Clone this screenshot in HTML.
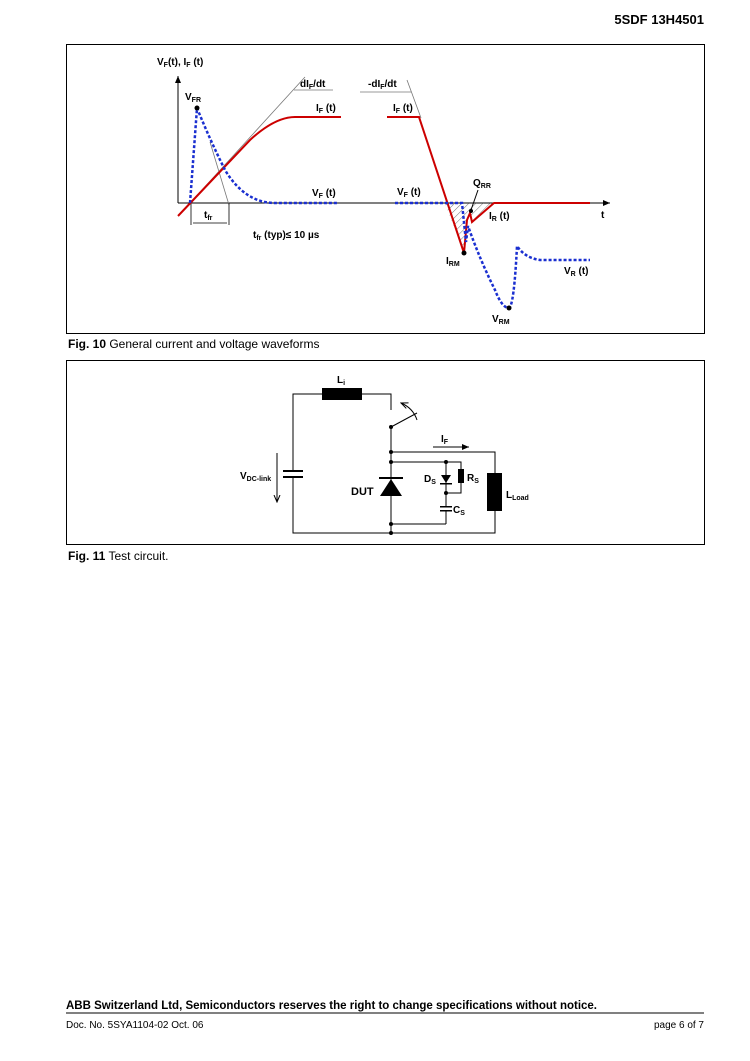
<!DOCTYPE html>
<html><head><meta charset="utf-8"><style>
html,body{margin:0;padding:0;background:#fff}
svg{display:block}
text{font-family:"Liberation Sans",Arial,sans-serif}
</style></head><body>
<svg width="750" height="1061" viewBox="0 0 750 1061" xmlns="http://www.w3.org/2000/svg">
<defs>
<pattern id="h" width="5" height="5" patternUnits="userSpaceOnUse" patternTransform="rotate(45)">
<line x1="0" y1="0" x2="0" y2="5" stroke="#555" stroke-width="0.8"/></pattern>
<marker id="ar" markerWidth="8" markerHeight="8" refX="7" refY="4" orient="auto"><path d="M0,1 L7,4 L0,7 z" fill="#000"/></marker>
<marker id="ao" markerWidth="8" markerHeight="8" refX="7" refY="4" orient="auto"><path d="M0,1 L7,4 L0,7" fill="none" stroke="#000" stroke-width="1"/></marker>
</defs>
<text x="704" y="24" font-size="13" font-weight="bold" text-anchor="end">5SDF 13H4501</text>

<!-- Fig 10 box -->
<rect x="66.5" y="44.5" width="638" height="289" fill="none" stroke="#000" stroke-width="1"/>
<text x="157" y="65" font-size="10" font-weight="bold">V<tspan font-size="7" dy="2">F</tspan><tspan dy="-2">(t), I</tspan><tspan font-size="7" dy="2">F</tspan><tspan dy="-2"> (t)</tspan></text>
<line x1="178" y1="203" x2="178" y2="76" stroke="#000" stroke-width="1" marker-end="url(#ar)"/>
<line x1="178" y1="203" x2="610" y2="203" stroke="#000" stroke-width="1" marker-end="url(#ar)"/>
<text x="601" y="218" font-size="10" font-weight="bold">t</text>
<!-- tangents -->
<line x1="190" y1="203" x2="305" y2="77" stroke="#777" stroke-width="0.8"/>
<line x1="294" y1="90" x2="333" y2="90" stroke="#777" stroke-width="0.8"/>
<text x="300" y="87" font-size="10" font-weight="bold">dI<tspan font-size="7" dy="2">F</tspan><tspan dy="-2">/dt</tspan></text>
<line x1="210" y1="142" x2="229" y2="205" stroke="#777" stroke-width="0.8"/>
<line x1="191" y1="203" x2="191" y2="225" stroke="#000" stroke-width="0.8"/>
<line x1="229" y1="203" x2="229" y2="225" stroke="#000" stroke-width="0.8"/>
<line x1="193" y1="223" x2="227" y2="223" stroke="#000" stroke-width="0.8"/>
<text x="204" y="218" font-size="10" font-weight="bold">t<tspan font-size="7" dy="2">fr</tspan></text>
<text x="253" y="238" font-size="10" font-weight="bold">t<tspan font-size="7" dy="2">fr</tspan><tspan dy="-2"> (typ)≤  10 µs</tspan></text>
<!-- IF rise -->
<path d="M178,216 L250,140 Q275,117 295,117 L341,117" fill="none" stroke="#c00" stroke-width="2"/>
<path d="M190,203 L197,108 Q210,140 225,170 Q245,203 275,203 L338,203" fill="none" stroke="#1a2fd0" stroke-width="2.5" stroke-dasharray="3,2"/>
<circle cx="197" cy="108" r="2.5" fill="#000"/>
<text x="185" y="100" font-size="10" font-weight="bold">V<tspan font-size="7" dy="2">FR</tspan></text>
<text x="316" y="111" font-size="10" font-weight="bold">I<tspan font-size="7" dy="2">F</tspan><tspan dy="-2"> (t)</tspan></text>
<text x="312" y="196" font-size="10" font-weight="bold">V<tspan font-size="7" dy="2">F</tspan><tspan dy="-2"> (t)</tspan></text>
<!-- turn off -->
<line x1="360" y1="92" x2="411" y2="92" stroke="#777" stroke-width="0.8"/>
<line x1="407" y1="80" x2="421" y2="118" stroke="#777" stroke-width="0.8"/>
<text x="368" y="87" font-size="10" font-weight="bold">-dI<tspan font-size="7" dy="2">F</tspan><tspan dy="-2">/dt</tspan></text>
<text x="393" y="111" font-size="10" font-weight="bold">I<tspan font-size="7" dy="2">F</tspan><tspan dy="-2"> (t)</tspan></text>
<path d="M445,203 L464,253 L467,220 L470,213 L472,222 L494,203 Z" fill="url(#h)"/>
<polyline points="387,117 419,117 464,253 467,220 470,213 472,222 494,203 590,203" fill="none" stroke="#c00" stroke-width="2"/>
<path d="M395,203 L462,203 L466,242 L468,226 Q480,260 495,290 Q502,308 509,308 Q514,306 517,246 Q525,258 540,260 L590,260" fill="none" stroke="#1a2fd0" stroke-width="2.5" stroke-dasharray="3,2"/>
<circle cx="464" cy="253" r="2.5" fill="#000"/>
<circle cx="509" cy="308" r="2.5" fill="#000"/>
<circle cx="471" cy="211" r="2" fill="#000"/>
<line x1="478" y1="190" x2="471" y2="210" stroke="#000" stroke-width="1"/>
<text x="397" y="195" font-size="10" font-weight="bold">V<tspan font-size="7" dy="2">F</tspan><tspan dy="-2"> (t)</tspan></text>
<text x="473" y="186" font-size="10" font-weight="bold">Q<tspan font-size="7" dy="2">RR</tspan></text>
<text x="489" y="219" font-size="10" font-weight="bold">I<tspan font-size="7" dy="2">R</tspan><tspan dy="-2"> (t)</tspan></text>
<text x="446" y="264" font-size="10" font-weight="bold">I<tspan font-size="7" dy="2">RM</tspan></text>
<text x="564" y="274" font-size="10" font-weight="bold">V<tspan font-size="7" dy="2">R</tspan><tspan dy="-2"> (t)</tspan></text>
<text x="492" y="322" font-size="10" font-weight="bold">V<tspan font-size="7" dy="2">RM</tspan></text>
<text x="68" y="348" font-size="12"><tspan font-weight="bold">Fig. 10</tspan> General current and voltage waveforms</text>

<!-- Fig 11 -->
<rect x="66.5" y="360.5" width="638" height="184" fill="none" stroke="#000" stroke-width="1"/>
<g stroke="#000" stroke-width="1" fill="none">
<polyline points="391,410 391,394 293,394 293,471"/>
<polyline points="293,478 293,533 495,533 495,511"/>
<line x1="391" y1="427" x2="391" y2="533"/>
<line x1="391" y1="427" x2="417" y2="413"/>
<path d="M417,420 Q413,408 401,403" marker-end="url(#ao)"/>
<polyline points="391,452 495,452 495,473"/>
<polyline points="391,462 461,462 461,469"/>
<polyline points="461,483 461,493 446,493"/>
<line x1="446" y1="462" x2="446" y2="507"/>
<line x1="446" y1="510" x2="446" y2="524"/>
<line x1="391" y1="524" x2="446" y2="524"/>
<line x1="277" y1="453" x2="277" y2="502" marker-end="url(#ao)"/>
<line x1="433" y1="447" x2="469" y2="447" marker-end="url(#ar)"/>
</g>
<rect x="322" y="388" width="40" height="12" fill="#000"/>
<rect x="487" y="473" width="15" height="38" fill="#000"/>
<rect x="458" y="469" width="6" height="14" fill="#000"/>
<rect x="283" y="470" width="20" height="2" fill="#000"/>
<rect x="283" y="476" width="20" height="2" fill="#000"/>
<rect x="440" y="506" width="12" height="1.5" fill="#000"/>
<rect x="440" y="510" width="12" height="1.5" fill="#000"/>
<path d="M380,496 L402,496 L391,479 Z" fill="#000"/>
<rect x="379" y="477" width="24" height="2" fill="#000"/>
<path d="M441,475 L451,475 L446,483 Z" fill="#000"/>
<rect x="440" y="483" width="12" height="1.5" fill="#000"/>
<g fill="#000">
<circle cx="391" cy="427" r="2"/><circle cx="391" cy="452" r="2"/><circle cx="391" cy="462" r="2"/>
<circle cx="391" cy="524" r="2"/><circle cx="391" cy="533" r="2"/><circle cx="446" cy="462" r="2"/><circle cx="446" cy="493" r="2"/>
</g>
<text x="337" y="383" font-size="10" font-weight="bold">L<tspan font-size="7" dy="2">i</tspan></text>
<text x="441" y="442" font-size="10" font-weight="bold">I<tspan font-size="7" dy="2">F</tspan></text>
<text x="240" y="479" font-size="10" font-weight="bold">V<tspan font-size="7" dy="2">DC-link</tspan></text>
<text x="351" y="495" font-size="11" font-weight="bold">DUT</text>
<text x="424" y="482" font-size="10" font-weight="bold">D<tspan font-size="7" dy="2">S</tspan></text>
<text x="467" y="481" font-size="10" font-weight="bold">R<tspan font-size="7" dy="2">S</tspan></text>
<text x="453" y="513" font-size="10" font-weight="bold">C<tspan font-size="7" dy="2">S</tspan></text>
<text x="506" y="498" font-size="10" font-weight="bold">L<tspan font-size="7" dy="2">Load</tspan></text>
<text x="68" y="560" font-size="12"><tspan font-weight="bold">Fig. 11</tspan> Test circuit.</text>

<!-- footer -->
<text x="66" y="1009" font-size="11.5" font-weight="bold">ABB Switzerland Ltd, Semiconductors reserves the right to change specifications without notice.</text>
<line x1="66" y1="1013" x2="704" y2="1013" stroke="#000" stroke-width="1"/>
<text x="66" y="1028" font-size="10">Doc. No. 5SYA1104-02 Oct. 06</text>
<text x="704" y="1028" font-size="10" text-anchor="end">page 6 of 7</text>
</svg>
</body></html>
